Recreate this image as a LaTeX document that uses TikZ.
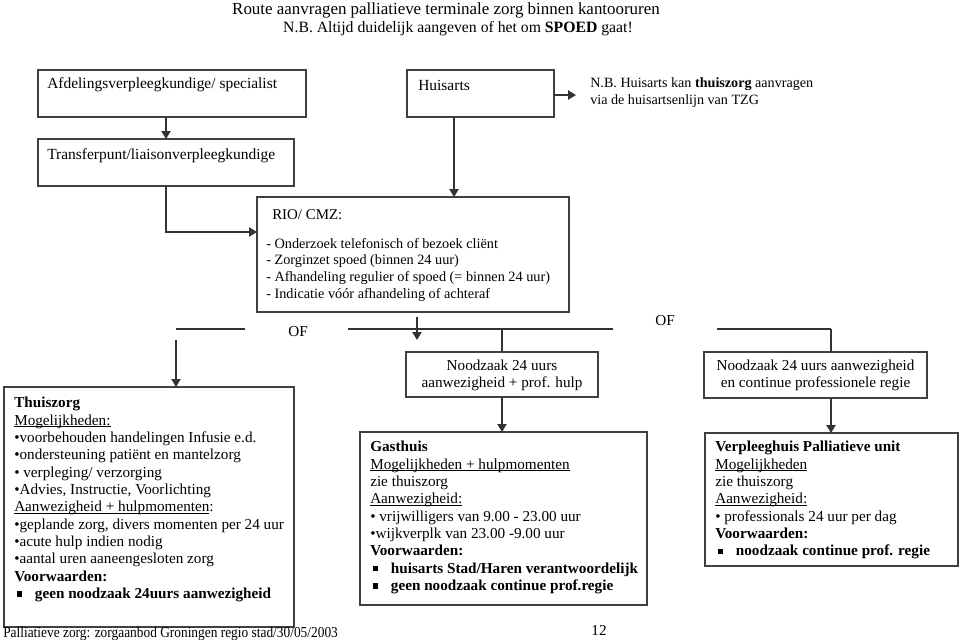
\documentclass[tikz,border=0pt]{standalone}
\usepackage{fontspec}
\setmainfont{Liberation Serif}
\usetikzlibrary{arrows.meta}
\tikzset{
	box/.style={draw=black!75, line width=0.9pt, anchor=north west, inner sep=0pt, outer sep=0pt},
	txt/.style={anchor=north west, inner sep=0pt, align=left, font=\fontsize{11.4}{13}\selectfont},
	ctxt/.style={inner sep=0pt, align=center, font=\fontsize{11.4}{13}\selectfont},
	conn/.style={draw=black!80, line width=0.9pt},
	arr/.style={conn, -{Triangle[length=6pt,width=7pt]}}
}
% box from top left corner to bottom right corner, in pixels
\def\pxbox(#1)(#2,#3)(#4,#5){\node[box, minimum width={(#4-#2)*0.75pt}, minimum height={(#5-#3)*0.75pt}] (#1) at (#2,#3) {};}
\newcommand{\sqb}{\hspace{0.15em}\rule[0.12em]{0.36em}{0.36em}\hspace{0.85em}}
\newcommand{\undl}[1]{\setbox0\hbox{#1}\rlap{\rule[-0.13em]{\wd0}{0.055em}}\box0}

\begin{document}
\begin{tikzpicture}[x=0.75pt, y=-0.75pt]
		%%%%% START %%%%%
		\useasboundingbox (0,0) rectangle (960,639);
		
		\node[font=\fontsize{12.7}{14}\selectfont, inner sep=0pt] (title) at (446,10) {Route aanvragen palliatieve terminale zorg binnen kantooruren};
		\node[font=\fontsize{11.8}{13}\selectfont, inner sep=0pt] (subtitle) at (458,29) {N.B. Altijd duidelijk aangeven of het om \textbf{SPOED} gaat!};
		
		\pxbox(afd)(38,70)(306,117)
		\node[txt, anchor=west, font=\fontsize{11.6}{13}\selectfont] (afdtxt) at (47,85) {Afdelingsverpleegkundige/ specialist};
		\pxbox(hui)(407,70)(554,117)
		\node[txt, anchor=west, font=\fontsize{11.6}{13}\selectfont] (huitxt) at (418,85) {Huisarts};
		\node[txt, font=\fontsize{10.6}{13}\selectfont] (nb) at (590,77) {N.B. Huisarts kan \textbf{thuiszorg} aanvragen\\via de huisartsenlijn van TZG};
		\draw[arr] (hui.east |- 0,95) -- (576,95);
		
		\pxbox(trans)(38,139)(294,186)
		\node[txt, anchor=west, font=\fontsize{11.6}{13}\selectfont] (transtxt) at (47,156) {Transferpunt/liaisonverpleegkundige};
		\draw[arr] (trans.north |- afd.south) -- (trans.north);
		
		\pxbox(rio)(257,197)(569,312)
		\node[txt, anchor=west, font=\fontsize{11.2}{13}\selectfont] (riohead) at (272,215) {RIO/ CMZ:};
		\node[txt, font=\fontsize{10.7}{12.5}\selectfont] (rioitems) at (266,238) {- Onderzoek telefonisch of bezoek cliënt\\- Zorginzet spoed (binnen 24 uur)\\- Afhandeling regulier of spoed (= binnen 24 uur)\\- Indicatie vóór afhandeling of achteraf};
		\coordinate (bend) at (trans.south |- 0,232);
		\draw[arr] (trans.south) -- (bend) -- (rio.west |- bend);
		\coordinate (huiout) at (454,117);
		\draw[arr] (huiout) -- (huiout |- rio.north);
		
		% OF lines
		\coordinate (ofa) at (176,329);
		\coordinate (ofb) at (245,329);
		\node[ctxt] (of1) at (298,332) {OF};
		\coordinate (ofc) at (348,329);
		\coordinate (ofd) at (613,329);
		\node[ctxt] (of2) at (665,321) {OF};
		\coordinate (ofe) at (717,329);
		\coordinate (offf) at (831,329);
		\draw[conn] (ofa) -- (ofb);
		\draw[conn] (ofc) -- (ofd);
		\draw[conn] (ofe) -- (offf);
		\draw[arr] (417,317) -- (417,340);
		
		\pxbox(nood1)(406,352)(598,397)
		\node[ctxt] (nood1txt) at (502,375.5) {Noodzaak 24 uurs\\aanwezigheid + prof. hulp};
		\pxbox(nood2)(704,352)(927,398)
		\node[ctxt] (nood2txt) at (815.5,375.5) {Noodzaak 24 uurs aanwezigheid\\en continue professionele regie};
		\draw[conn] (nood1.north |- ofc) -- (nood1.north);
		\draw[conn] (offf) -- (offf |- nood2.north);
		
		\pxbox(thz)(4,387)(294,627)
		\node[txt] (thztxt) at (14,397) {\textbf{Thuiszorg}\\
			\undl{Mogelijkheden:}\\
			•voorbehouden handelingen Infusie e.d.\\
			•ondersteuning patiënt en mantelzorg\\
			• verpleging/ verzorging\\
			•Advies, Instructie, Voorlichting\\
			\undl{Aanwezigheid + hulpmomenten}:\\
			•geplande zorg, divers momenten per 24 uur\\
			•acute hulp indien nodig\\
			•aantal uren aaneengesloten zorg\\
			\textbf{Voorwaarden:}\\
			\sqb\textbf{geen noodzaak 24uurs aanwezigheid}};
		\draw[arr] (ofa |- 0,340) -- (ofa |- thz.north);
		
		\pxbox(gast)(360,432)(647,605)
		\node[txt] (gasttxt) at (370,441) {\textbf{Gasthuis}\\
			\undl{Mogelijkheden + hulpmomenten}\\
			zie thuiszorg\\
			\undl{Aanwezigheid:}\\
			• vrijwilligers van 9.00 - 23.00 uur\\
			•wijkverplk van 23.00 -9.00 uur\\
			\textbf{Voorwaarden:}\\
			\sqb\textbf{huisarts Stad/Haren verantwoordelijk}\\
			\sqb\textbf{geen noodzaak continue prof.regie}};
		\draw[arr] (nood1.south) -- (nood1.south |- gast.north);
		
		\pxbox(verp)(705,433)(958,566)
		\node[txt] (verptxt) at (715,441) {\textbf{Verpleeghuis Palliatieve unit}\\
			\undl{Mogelijkheden}\\
			zie thuiszorg\\
			\undl{Aanwezigheid:}\\
			• professionals 24 uur per dag\\
			\textbf{Voorwaarden:}\\
			\sqb\textbf{noodzaak continue prof. regie}};
		\draw[arr] (nood2.south -| offf) -- (offf |- verp.north);
		
		\node[txt, anchor=base west, font=\fontsize{11.4}{13}\selectfont\addfontfeatures{FakeStretch=0.88}] (footer) at (3,637) {Palliatieve zorg: zorgaanbod Groningen regio stad/30/05/2003};
		\node[txt, anchor=base] (page) at (599,635) {12};
		
		%%%%% END %%%%%
\end{tikzpicture}
\end{document}
